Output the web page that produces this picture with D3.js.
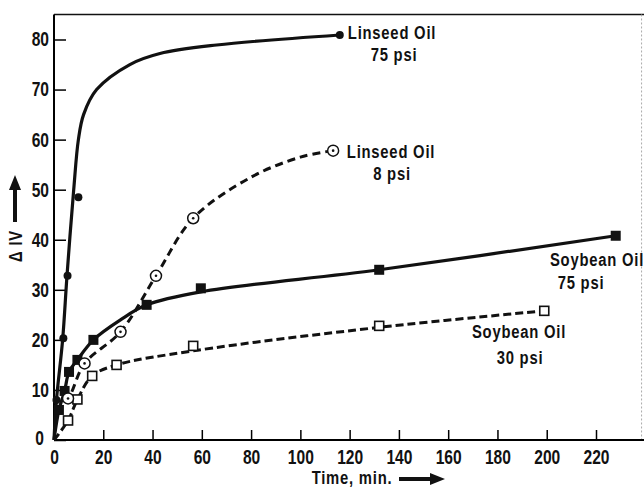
<!DOCTYPE html>
<html>
<head>
<meta charset="utf-8">
<script src="https://cdn.jsdelivr.net/npm/d3@7"></script>
<style>
  body { margin: 0; background: #fff; }
  svg text { font-family: "Liberation Sans", Arial, sans-serif; font-weight: bold; fill: #111; }
</style>
</head>
<body>
<div class="chart"></div>
<script>

// ticks
var xTicks = [0, 20, 40, 60, 80, 100, 120, 140, 160, 180, 200, 220];
var yTicks = [0, 10, 20, 30, 40, 50, 60, 70, 80];

// measured points (time in min, delta IV)
var linseed75Pts = [[1, 8], [3.8, 20.3], [5.5, 32.8], [9.9, 48.5], [116, 80.9]];
var linseed8Pts = [[5.7, 8.3], [12.4, 15.3], [27, 21.6], [41.4, 32.8], [56.5, 44.3], [113.3, 57.8]];
var soybean75Pts = [[2, 6], [4.3, 9.8], [6.1, 13.6], [9.5, 16], [16, 20], [37.6, 27], [59.6, 30.3], [132, 34], [228, 40.8]];
var soybean30Pts = [[5.7, 3.9], [9.5, 8.1], [15.5, 12.8], [25.4, 15], [56.5, 18.8], [132, 22.8], [199, 25.8]];

// hand drawn curves
var linseed75Curve = [[0, 0], [1, 8], [3.5, 20], [5.3, 33], [8, 50], [9.9, 60], [12, 65], [17.3, 70], [30.8, 75], [43, 77.2], [66, 78.9], [116, 80.9]];
var linseed8Curve = [[0, 6], [5.7, 8.3], [12.4, 15.3], [27, 21.6], [41.4, 32.8], [56.5, 44.3], [80, 52.5], [100, 56.5], [113.3, 57.8]];
var soybean75Curve = [[0, 0], [2, 6], [4.3, 9.8], [6.1, 13.6], [9.5, 16], [16, 20], [27, 24], [37.6, 27], [59.6, 29.6], [132, 34], [228, 40.8]];
var soybean30Curve = [[0, 0], [5.7, 3.9], [9.5, 8.1], [15.5, 12.8], [25.4, 15], [56.5, 17.8], [132, 22.5], [199, 25.8]];

var width = 644, height = 487;
var squeeze = 0.78;

var svg = d3.select(".chart")
    .append("svg")
    .attr("width", width)
    .attr("height", height);

var x = d3.scaleLinear().domain([0, 220]).range([54, 596]);
var y = d3.scaleLinear().domain([0, 80]).range([440, 39.5]);

// frame: top solid, right faint dotted
svg.append("line")
    .attr("x1", x(0)).attr("x2", width)
    .attr("y1", y(85)).attr("y2", y(85))
    .attr("stroke", "#111").attr("stroke-width", 1.6);
svg.append("line")
    .attr("x1", x(238.5)).attr("x2", x(238.5))
    .attr("y1", y(85)).attr("y2", y(0))
    .attr("stroke", "#aaa").attr("stroke-width", 1)
    .attr("stroke-dasharray", "2,2");

// axes
var xAxis = d3.axisBottom(x).tickValues(xTicks).tickSize(-10).tickPadding(12).tickFormat(d3.format("d"));
var gx = svg.append("g").attr("transform", "translate(0," + y(0) + ")").call(xAxis);
gx.select(".domain").attr("d", "M" + x(0) + ",0H" + width).attr("stroke-width", 2);
gx.selectAll(".tick line").attr("stroke-width", 1.5);
gx.selectAll(".tick text").style("font-size", "20px").attr("dy", "0.6em")
    .attr("transform", "scale(" + squeeze + ",1)");

var yAxis = d3.axisLeft(y).tickValues(yTicks).tickSize(-12).tickPadding(5).tickFormat(d3.format("d"));
var gy = svg.append("g").attr("transform", "translate(" + x(0) + ",0)").call(yAxis);
gy.select(".domain").attr("d", "M0," + y(85) + "V" + y(0)).attr("stroke-width", 2);
gy.selectAll(".tick line").attr("stroke-width", 1.5);
gy.selectAll(".tick text").style("font-size", "20px")
    .attr("x", -5 / squeeze)
    .attr("transform", "scale(" + squeeze + ",1)");
gy.selectAll(".tick").filter(function (d) { return d === 0; })
    .select("text").attr("x", -10 / squeeze).attr("y", -2);

// curves
var line = d3.line()
    .x(function (d) { return x(d[0]); })
    .y(function (d) { return y(d[1]); })
    .curve(d3.curveCatmullRom.alpha(0.5));

svg.append("path").datum(linseed75Curve)
    .attr("d", line).attr("fill", "none").attr("stroke", "#111").attr("stroke-width", 3.2);
svg.append("path").datum(linseed8Curve)
    .attr("d", line).attr("fill", "none").attr("stroke", "#111").attr("stroke-width", 3)
    .attr("stroke-dasharray", "8,5");
svg.append("path").datum(soybean75Curve)
    .attr("d", line).attr("fill", "none").attr("stroke", "#111").attr("stroke-width", 3.2);
svg.append("path").datum(soybean30Curve)
    .attr("d", line).attr("fill", "none").attr("stroke", "#111").attr("stroke-width", 3)
    .attr("stroke-dasharray", "8,4");

// markers
svg.append("g").selectAll("rect").data(soybean30Pts).enter().append("rect")
    .attr("x", function (d) { return x(d[0]) - 4.5; })
    .attr("y", function (d) { return y(d[1]) - 4.5; })
    .attr("width", 9).attr("height", 9)
    .attr("fill", "#fff").attr("stroke", "#111").attr("stroke-width", 1.6);

svg.append("g").selectAll("rect").data(soybean75Pts).enter().append("rect")
    .attr("x", function (d) { return x(d[0]) - 5; })
    .attr("y", function (d) { return y(d[1]) - 5; })
    .attr("width", 10).attr("height", 10)
    .attr("fill", "#111");

var l8 = svg.append("g").selectAll("g").data(linseed8Pts).enter().append("g")
    .attr("transform", function (d) { return "translate(" + x(d[0]) + "," + y(d[1]) + ")"; });
l8.append("circle").attr("r", 5.5).attr("fill", "#fff").attr("stroke", "#111").attr("stroke-width", 1.5);
l8.append("circle").attr("r", 1.3).attr("fill", "#111");

svg.append("g").selectAll("circle").data(linseed75Pts).enter().append("circle")
    .attr("cx", function (d) { return x(d[0]); })
    .attr("cy", function (d) { return y(d[1]); })
    .attr("r", 4)
    .attr("fill", "#111");

// series labels
var labels = [
    { t: "Linseed Oil", px: 392, py: 39 },
    { t: "75 psi", px: 394, py: 61 },
    { t: "Linseed Oil", px: 391, py: 158 },
    { t: "8 psi", px: 392, py: 180 },
    { t: "Soybean Oil", px: 597, py: 266 },
    { t: "75 psi", px: 581, py: 289 },
    { t: "Soybean Oil", px: 519, py: 338 },
    { t: "30 psi", px: 520, py: 364 }
];
svg.append("g").selectAll("text").data(labels).enter().append("text")
    .attr("transform", function (d) { return "translate(" + d.px + "," + d.py + ") scale(" + squeeze + ",1)"; })
    .attr("text-anchor", "middle")
    .style("font-size", "19px")
    .style("letter-spacing", "1px")
    .text(function (d) { return d.t; });

// y axis title with arrow
svg.append("text")
    .attr("transform", "translate(22,246) rotate(-90) scale(" + squeeze + ",1)")
    .attr("text-anchor", "middle")
    .style("font-size", "19px")
    .style("letter-spacing", "1px")
    .text("\u0394 IV");
svg.append("rect").attr("x", 13).attr("y", 188).attr("width", 4).attr("height", 34).attr("fill", "#111");
svg.append("path").attr("d", "M9,190 L15,175 L21,190 Z").attr("fill", "#111");

// x axis title with arrow
svg.append("text")
    .attr("transform", "translate(352,484) scale(" + squeeze + ",1)")
    .attr("text-anchor", "middle")
    .style("font-size", "19px")
    .style("letter-spacing", "1px")
    .text("Time, min.");
svg.append("rect").attr("x", 399).attr("y", 477).attr("width", 33).attr("height", 4).attr("fill", "#111");
svg.append("path").attr("d", "M430,473 L445,479 L430,485 Z").attr("fill", "#111");

</script>
</body>
</html>
